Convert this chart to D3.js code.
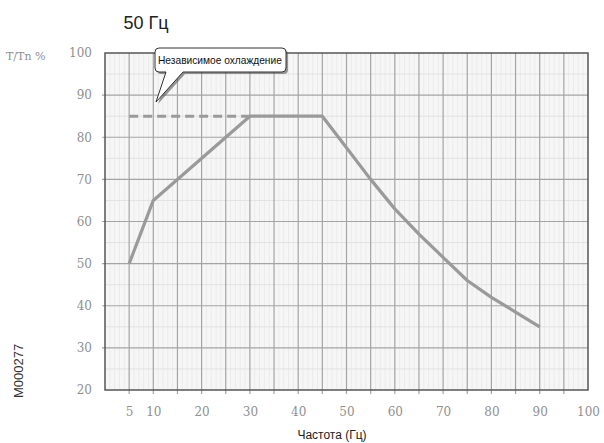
<!DOCTYPE html>
<html><head><meta charset="utf-8">
<script src="https://cdn.jsdelivr.net/npm/d3@7"></script>
<style>
html,body{margin:0;padding:0;background:#fff;}
svg{display:block;}
</style></head>
<body>
<script>
// ---- data ----
const xTicks = [5, 10, 20, 30, 40, 50, 60, 70, 80, 90, 100];
const yTicks = [20, 30, 40, 50, 60, 70, 80, 90, 100];
const freq   = [5, 10, 30, 45, 50, 55, 60, 65, 70, 75, 80, 85, 90];
const torque = [50, 65, 85, 85, 77.5, 70, 63, 57, 51.5, 46, 42, 38.5, 35];
const dashFreq = [5, 30];
const dashTorque = [85, 85];
const titleText = "50 Гц";
const xTitle = "Частота (Гц)";
const yTitle = "T/Tn %";
const noteText = "Независимое охлаждение";
const codeText = "M000277";

const W = 604, H = 443;
const svg = d3.select("body").append("svg").attr("width", W).attr("height", H);

const x = d3.scaleLinear().domain([0, 100]).range([105, 588]);
const y = d3.scaleLinear().domain([20, 100]).range([390, 53]);

// plot background
svg.append("rect").attr("x", x(0)).attr("y", y(100))
  .attr("width", x(100) - x(0)).attr("height", y(20) - y(100))
  .attr("fill", "#f6f6f6");

// minor grid
const g = svg.append("g");
g.selectAll("line.vmin").data(d3.range(1, 100, 1).filter(v => v % 5 !== 0))
  .join("line").attr("x1", d => x(d)).attr("x2", d => x(d))
  .attr("y1", y(100)).attr("y2", y(20)).attr("stroke", "#ebebeb").attr("stroke-width", 1);
g.selectAll("line.hmin").data(d3.range(25, 100, 5).filter(v => v % 10 !== 0))
  .join("line").attr("y1", d => y(d)).attr("y2", d => y(d))
  .attr("x1", x(0)).attr("x2", x(100)).attr("stroke", "#e2e2e2").attr("stroke-width", 1);
// major grid
g.selectAll("line.vmaj").data(d3.range(5, 100, 5))
  .join("line").attr("x1", d => x(d)).attr("x2", d => x(d))
  .attr("y1", y(100)).attr("y2", y(20) + 4).attr("stroke", "#a4a4a4").attr("stroke-width", 1.2);
g.selectAll("line.hmaj").data(d3.range(30, 100, 10))
  .join("line").attr("y1", d => y(d)).attr("y2", d => y(d))
  .attr("x1", x(0) - 3).attr("x2", x(100)).attr("stroke", "#a4a4a4").attr("stroke-width", 1.2);

// frame
svg.append("rect").attr("x", x(0)).attr("y", y(100))
  .attr("width", x(100) - x(0)).attr("height", y(20) - y(100))
  .attr("fill", "none").attr("stroke", "#555").attr("stroke-width", 1.5);

// axes
const xAxis = svg.append("g").attr("transform", `translate(0,${y(20)})`)
  .call(d3.axisBottom(x).tickValues(xTicks).tickSize(0).tickPadding(17));
const yAxis = svg.append("g").attr("transform", `translate(${x(0)},0)`)
  .call(d3.axisLeft(y).tickValues(yTicks).tickSize(0).tickPadding(13));
[xAxis, yAxis].forEach(a => {
  a.select(".domain").remove();
  a.selectAll("text").attr("fill", "#8f8f8f")
    .attr("font-family", "'DejaVu Serif', serif").attr("font-size", 12);
});

// dashed line
const line = d3.line().x(d => x(d[0])).y(d => y(d[1]));
svg.append("path").datum(dashFreq.map((f, i) => [f, dashTorque[i]]))
  .attr("d", line).attr("fill", "none").attr("stroke", "#9a9a9a")
  .attr("stroke-width", 3).attr("stroke-dasharray", "9,5");

// main curve
svg.append("path").datum(freq.map((f, i) => [f, torque[i]]))
  .attr("d", line).attr("fill", "none").attr("stroke", "#9a9a9a")
  .attr("stroke-width", 3.2).attr("stroke-linejoin", "round");

// callout
const bx0 = 155, by0 = 48, bx1 = 286, by1 = 72, r = 4;
const tip = [156, 102];
const calloutPath = `M${bx0 + r},${by0} H${bx1 - r} Q${bx1},${by0} ${bx1},${by0 + r} V${by1 - r} Q${bx1},${by1} ${bx1 - r},${by1}
  H183 L${tip[0]},${tip[1]} L166,${by1} H${bx0 + r} Q${bx0},${by1} ${bx0},${by1 - r} V${by0 + r} Q${bx0},${by0} ${bx0 + r},${by0} Z`;
svg.append("path").attr("d", calloutPath).attr("transform", "translate(2,2)")
  .attr("fill", "#555").attr("opacity", 0.6);
svg.append("path").attr("d", calloutPath).attr("fill", "#fff")
  .attr("stroke", "#333").attr("stroke-width", 1);
svg.append("text").attr("x", 158).attr("y", 64)
  .attr("font-family", "'Liberation Sans', Arial, sans-serif").attr("font-size", 10.2)
  .attr("fill", "#111").text(noteText);

// title
svg.append("text").attr("x", 146).attr("y", 29).attr("text-anchor", "middle")
  .attr("font-family", "'Liberation Sans', Arial, sans-serif").attr("font-size", 18)
  .attr("fill", "#222").text(titleText);

// x title
svg.append("text").attr("x", 332).attr("y", 439).attr("text-anchor", "middle")
  .attr("font-family", "'Liberation Sans Narrow', 'Liberation Sans', Arial, sans-serif")
  .attr("font-size", 12).attr("fill", "#222").text(xTitle);

// y title
svg.append("text").attr("x", 6).attr("y", 60)
  .attr("font-family", "'DejaVu Serif', serif").attr("font-size", 11)
  .attr("fill", "#8f8f8f").text(yTitle);

// code label
svg.append("text").attr("transform", "translate(23,398) rotate(-90)")
  .attr("font-family", "'Liberation Sans', Arial, sans-serif").attr("font-size", 13)
  .attr("fill", "#333").text(codeText);
</script>
</body></html>
